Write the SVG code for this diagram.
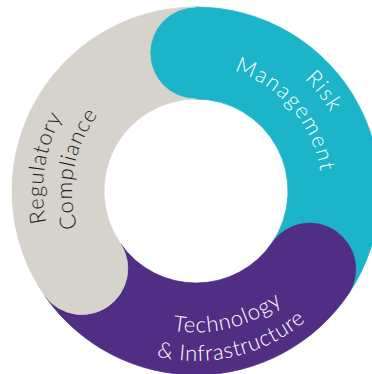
<svg xmlns="http://www.w3.org/2000/svg" xmlns:xlink="http://www.w3.org/1999/xlink" width="372" height="374" viewBox="0 0 372 374">
  <style>
    .label { font-family: "Lato", "Liberation Sans", sans-serif; font-weight: 300; font-size: 22px; text-anchor: middle; }
    .light { fill: #ffffff; }
    .dark { fill: #231f20; }
    .risk { fill: #1bb4c9; stroke: #1bb4c9; stroke-width: 0.75; }
    .tech { fill: #502e83; stroke: #502e83; stroke-width: 0.75; }
    .reg { fill: #d6d2cc; stroke: #d6d2cc; stroke-width: 0.75; }
  </style>
  <defs>
    <!-- baseline arcs around centre (196,191) -->
    <path id="arc-risk" d="M173.75,36.6 A156,156 0 0 1 340.8,248.9"/>
    <path id="arc-mgmt" d="M172.6,67.2 A126,126 0 0 1 314.9,232.6"/>
    <path id="arc-regu" d="M100.8,310.7 A153,153 0 0 1 139.9,48.6"/>
    <path id="arc-comp" d="M115.8,285.6 A124,124 0 0 1 154.2,74.3"/>
    <path id="arc-tech" d="M94.2,289.3 A141.5,141.5 0 0 0 332.0,230.0"/>
    <path id="arc-infra" d="M72.5,307.8 A170,170 0 0 0 358.9,239.6"/>
  </defs>

  <!-- ring segments: each starts with a rounded cap and ends under the next one -->
  <g id="node-risk-management">
    <path class="risk" d="M196,7 A184,184 0 0 1 348.5,293.9 A46,46 0 0 0 272.3,242.4 A92,92 0 0 0 196,99 A46,46 0 0 1 196,7 Z"/>
    <text class="label light"><textPath xlink:href="#arc-risk" startOffset="50%" textLength="42.5" lengthAdjust="spacing">Risk</textPath></text>
    <text class="label light"><textPath xlink:href="#arc-mgmt" startOffset="50%" textLength="139" lengthAdjust="spacing">Management</textPath></text>
  </g>

  <g id="node-technology-infrastructure">
    <path class="tech" d="M348.5,293.9 A184,184 0 0 1 45.3,296.5 A46,46 0 0 0 120.6,243.8 A92,92 0 0 0 272.3,242.4 A46,46 0 0 1 348.5,293.9 Z"/>
    <text class="label light"><textPath xlink:href="#arc-tech" startOffset="50%" textLength="116" lengthAdjust="spacing">Technology</textPath></text>
    <text class="label light"><textPath xlink:href="#arc-infra" startOffset="50%" textLength="159" lengthAdjust="spacing">&amp; Infrastructure</textPath></text>
  </g>

  <g id="node-regulatory-compliance">
    <path class="reg" d="M45.3,296.5 A184,184 0 0 1 196,7 A46,46 0 0 0 196,99 A92,92 0 0 0 120.6,243.8 A46,46 0 0 1 45.3,296.5 Z"/>
    <text class="label dark"><textPath xlink:href="#arc-regu" startOffset="50%" textLength="109" lengthAdjust="spacing">Regulatory</textPath></text>
    <text class="label dark"><textPath xlink:href="#arc-comp" startOffset="50%" textLength="119" lengthAdjust="spacing">Compliance</textPath></text>
  </g>

  <g id="connectors"/>
</svg>
